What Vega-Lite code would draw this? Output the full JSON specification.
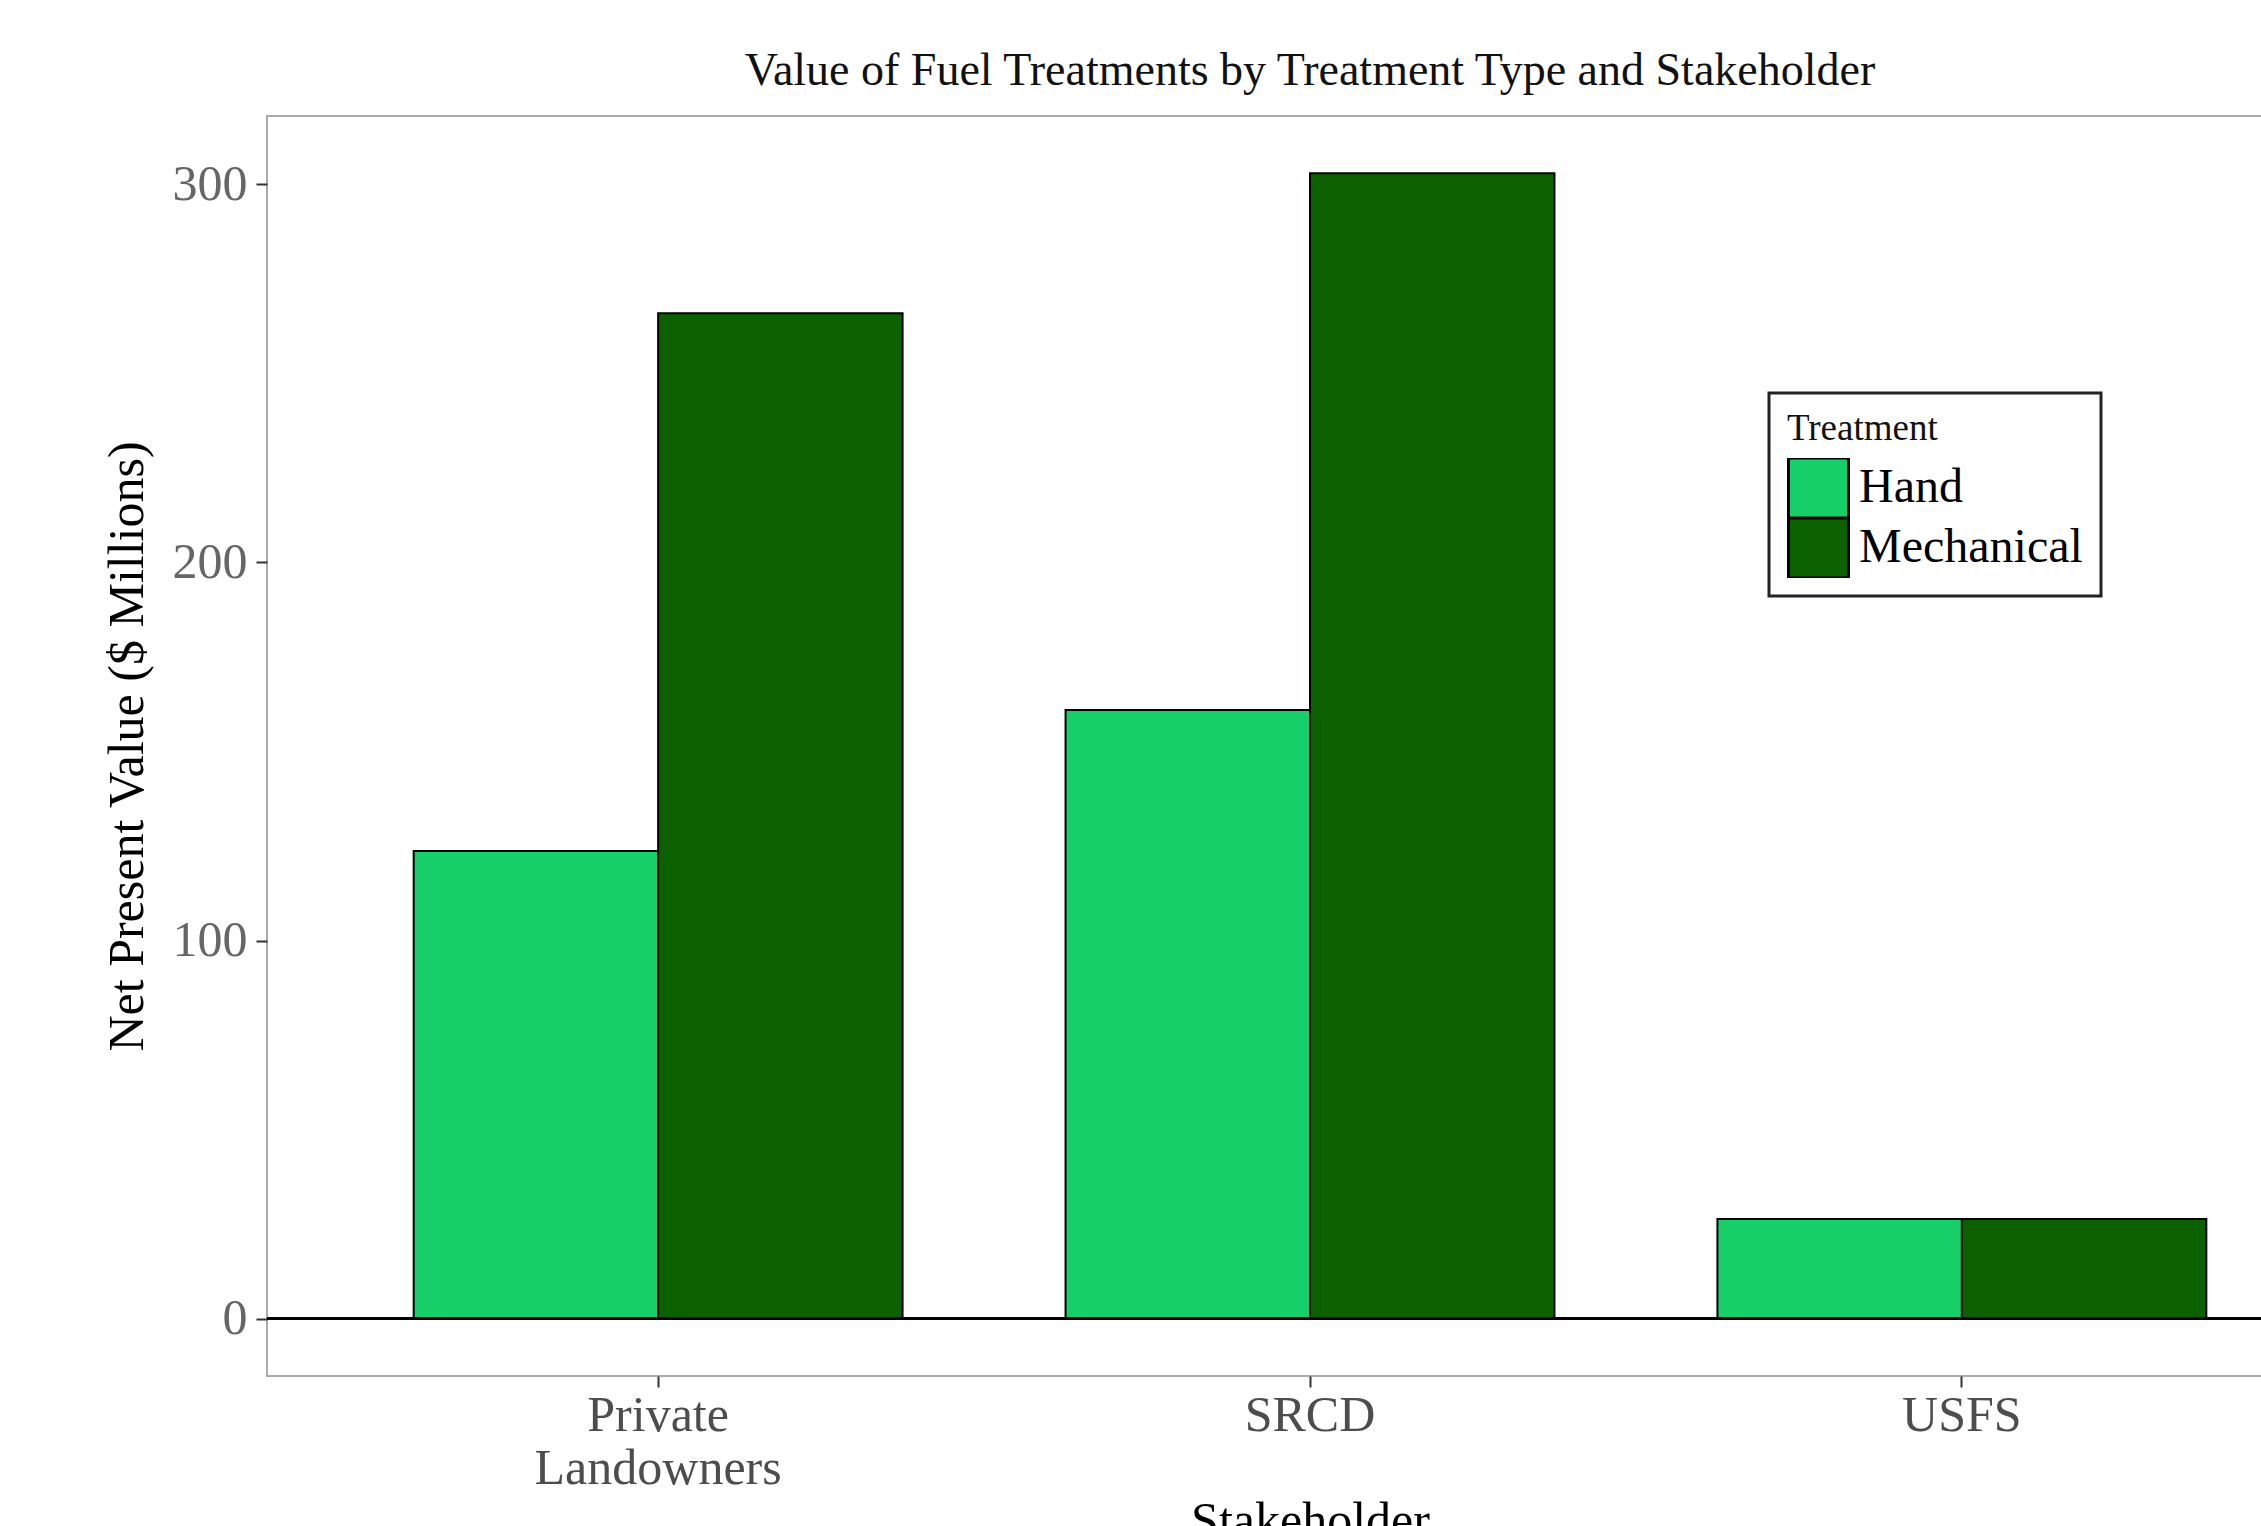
{
  "$schema": "https://vega.github.io/schema/vega-lite/v6.json",
  "width": 2086,
  "height": 1260,
  "autosize": {"type": "none"},
  "padding": {"left": 267, "top": 116, "right": 0, "bottom": 150},
  "background": "white",
  "title": {
    "text": "Value of Fuel Treatments by Treatment Type and Stakeholder",
    "font": "Liberation Serif",
    "fontSize": 46,
    "fontWeight": "normal",
    "color": "#111111",
    "anchor": "middle",
    "offset": 21
  },
  "data": {
    "values": [
      {"Stakeholder": "Private Landowners", "Treatment": "Hand", "NPV": 123.7},
      {"Stakeholder": "Private Landowners", "Treatment": "Mechanical", "NPV": 265.9},
      {"Stakeholder": "SRCD", "Treatment": "Hand", "NPV": 161.0},
      {"Stakeholder": "SRCD", "Treatment": "Mechanical", "NPV": 302.9},
      {"Stakeholder": "USFS", "Treatment": "Hand", "NPV": 26.4},
      {"Stakeholder": "USFS", "Treatment": "Mechanical", "NPV": 26.4}
    ]
  },
  "layer": [
    {
      "mark": {"type": "bar", "stroke": "#000000", "strokeWidth": 2},
      "encoding": {
        "x": {
          "field": "Stakeholder",
          "type": "nominal",
          "scale": {"paddingInner": 0.25, "paddingOuter": 0.225},
          "axis": {
            "title": "Stakeholder",
            "labelAngle": 0,
            "labelExpr": "split(datum.label, ' ')",
            "labelLineHeight": 53,
            "labelLimit": 0,
            "labelFont": "Liberation Serif",
            "labelFontSize": 50,
            "labelColor": "#4D4D4D",
            "labelPadding": 3,
            "domain": false,
            "grid": false,
            "tickSize": 11,
            "tickWidth": 2,
            "tickColor": "#333333",
            "titleFont": "Liberation Serif",
            "titleFontSize": 50,
            "titleFontWeight": "normal",
            "titleColor": "#000000",
            "titlePadding": 3
          }
        },
        "xOffset": {
          "field": "Treatment",
          "type": "nominal",
          "scale": {"paddingInner": 0, "paddingOuter": 0}
        },
        "y": {
          "field": "NPV",
          "type": "quantitative",
          "scale": {"domain": [-15.15, 318.05], "nice": false, "zero": false},
          "axis": {
            "title": "Net Present Value ($ Millions)",
            "values": [0, 100, 200, 300],
            "grid": false,
            "domain": false,
            "tickSize": 11,
            "tickWidth": 2,
            "tickColor": "#333333",
            "labelFont": "Liberation Serif",
            "labelFontSize": 50,
            "labelColor": "#666666",
            "labelPadding": 9,
            "titleFont": "Liberation Serif",
            "titleFontSize": 50,
            "titleFontWeight": "normal",
            "titleColor": "#000000",
            "titlePadding": 20
          }
        },
        "y2": {"datum": 0},
        "color": {
          "field": "Treatment",
          "type": "nominal",
          "scale": {"domain": ["Hand", "Mechanical"], "range": ["#16CF69", "#0B6100"]},
          "legend": {
            "orient": "none",
            "legendX": 1502,
            "legendY": 277,
            "title": "Treatment",
            "titleFont": "Liberation Serif",
            "titleFontSize": 37,
            "titleFontWeight": "normal",
            "titleColor": "#111111",
            "titlePadding": 10,
            "labelFont": "Liberation Serif",
            "labelFontSize": 48,
            "labelColor": "#000000",
            "labelOffset": 9,
            "labelLimit": 0,
            "symbolType": "square",
            "symbolSize": 3600,
            "symbolStrokeColor": "#000000",
            "symbolStrokeWidth": 3,
            "symbolOpacity": 1,
            "clipHeight": 60,
            "rowPadding": 0,
            "padding": 18,
            "strokeColor": "#222222",
            "encode": {"legend": {"update": {"strokeWidth": {"value": 3}}}}
          }
        }
      }
    },
    {
      "mark": {"type": "rule", "color": "#000000", "strokeWidth": 2.5},
      "encoding": {"y": {"datum": 0}}
    }
  ],
  "config": {"view": {"stroke": "#ABABAB", "strokeWidth": 2}}
}
